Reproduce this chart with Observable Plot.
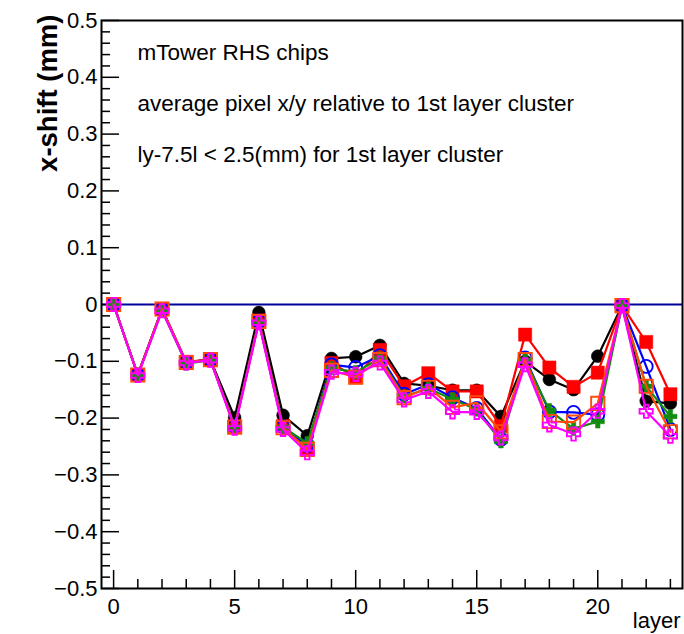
<!DOCTYPE html>
<html><head><meta charset="utf-8">
<script src="https://cdn.jsdelivr.net/npm/d3@7"></script>
<script src="https://cdn.jsdelivr.net/npm/@observablehq/plot@0.6"></script>
<style>
html,body{margin:0;padding:0;background:#fff;}
#chart svg{display:block;}
</style></head><body><div id="chart"></div>
<script>
// ---- data ----
const layers = [0,1,2,3,4,5,6,7,8,9,10,11,12,13,14,15,16,17,18,19,20,21,22,23];
const blackVals   = [0,-0.124,-0.008,-0.102,-0.097,-0.199,-0.014,-0.195,-0.231,-0.095,-0.092,-0.072,-0.139,-0.143,-0.151,-0.151,-0.197,-0.100,-0.132,-0.150,-0.091,-0.002,-0.170,-0.174];
const redVals     = [0,-0.124,-0.008,-0.101,-0.097,-0.214,-0.028,-0.214,-0.253,-0.103,-0.128,-0.080,-0.144,-0.121,-0.153,-0.153,-0.214,-0.053,-0.111,-0.145,-0.120,-0.002,-0.066,-0.158];
const blueVals    = [0,-0.124,-0.009,-0.102,-0.097,-0.214,-0.029,-0.215,-0.248,-0.106,-0.111,-0.090,-0.158,-0.141,-0.164,-0.183,-0.237,-0.094,-0.189,-0.190,-0.194,-0.002,-0.109,-0.220];
const greenVals   = [0,-0.124,-0.010,-0.104,-0.098,-0.215,-0.030,-0.216,-0.244,-0.112,-0.119,-0.095,-0.162,-0.148,-0.167,-0.185,-0.241,-0.098,-0.186,-0.219,-0.206,-0.002,-0.144,-0.197];
const orangeVals  = [0,-0.124,-0.008,-0.102,-0.097,-0.216,-0.030,-0.217,-0.255,-0.116,-0.128,-0.097,-0.164,-0.146,-0.181,-0.173,-0.224,-0.097,-0.206,-0.207,-0.174,-0.002,-0.144,-0.224];
const magentaVals = [0,-0.125,-0.011,-0.103,-0.098,-0.218,-0.032,-0.220,-0.261,-0.119,-0.123,-0.103,-0.168,-0.153,-0.189,-0.190,-0.235,-0.106,-0.212,-0.228,-0.188,-0.002,-0.188,-0.232];

const yTicks = [-0.5,-0.4,-0.3,-0.2,-0.1,0,0.1,0.2,0.3,0.4,0.5];
const xTicks = [0,5,10,15,20];
const annotations = ["mTower RHS chips","average pixel x/y relative to 1st layer cluster","ly-7.5l < 2.5(mm) for 1st layer cluster"];
const yTitle = "x-shift (mm)";
const xTitle = "layer";

// ---- symbols ----
const squareSym = {draw(c, size){const r=Math.sqrt(size/Math.PI); c.moveTo(-r,-r); c.lineTo(r,-r); c.lineTo(r,r); c.lineTo(-r,r); c.closePath();}};
const plusSym = {draw(c, size){const r=Math.sqrt(size/Math.PI), a=r*0.34;
  const p=[[-a,-r],[a,-r],[a,-a],[r,-a],[r,a],[a,a],[a,r],[-a,r],[-a,a],[-r,a],[-r,-a],[-a,-a]];
  c.moveTo(p[0][0],p[0][1]); for(let i=1;i<p.length;i++) c.lineTo(p[i][0],p[i][1]); c.closePath();}};

const series = [
  {vals: blackVals,   color: "#000000", symbol: "circle", filled: true,  r: 6.4},
  {vals: redVals,     color: "#ff0000", symbol: squareSym, filled: true,  r: 6.6},
  {vals: blueVals,    color: "#0000ff", symbol: "circle", filled: false, r: 6.5},
  {vals: greenVals,   color: "#118c11", symbol: plusSym,  filled: true,  r: 6.6},
  {vals: orangeVals,  color: "#ff4a0a", symbol: squareSym, filled: false, r: 6.6},
  {vals: magentaVals, color: "#ff00ff", symbol: plusSym,  filled: false, r: 6.6}
];

const W = 684, H = 634, mL = 101, mR = 2, mT = 20, mB = 46;
const pw = W - mL - mR, ph = H - mT - mB;

// minor tick positions
const yMinor = d3.range(-50, 51, 2).map(v => v / 100).filter(v => !yTicks.some(t => Math.abs(t - v) < 1e-9));
const xMinor = layers.filter(v => !xTicks.includes(v));

const marks = [
  Plot.ruleY([0], {stroke: "#000099", strokeWidth: 2}),
  Plot.tickY(yMinor, {y: d => d, insetRight: pw - 9, stroke: "black", strokeWidth: 1.5}),
  Plot.tickY(yTicks, {y: d => d, insetRight: pw - 18, stroke: "black", strokeWidth: 1.5}),
  Plot.tickX(xMinor, {x: d => d, insetTop: ph - 9, stroke: "black", strokeWidth: 1.5}),
  Plot.tickX(xTicks, {x: d => d, insetTop: ph - 18, stroke: "black", strokeWidth: 1.5}),
  Plot.axisY({ticks: yTicks, tickSize: 0, tickPadding: 4, label: null, tickFormat: d => d === 0 ? "0" : d3.format(".1f")(d)}),
  Plot.axisX({ticks: xTicks, tickSize: 0, tickPadding: 10, label: null, tickFormat: d => String(d)})
];

for (const s of series) {
  const data = layers.map((l, i) => ({layer: l, v: s.vals[i]}));
  marks.push(Plot.line(data, {x: "layer", y: "v", stroke: s.color, strokeWidth: 2.2}));
  marks.push(Plot.dot(data, {x: "layer", y: "v", symbol: s.symbol, r: s.r,
    fill: s.filled ? s.color : "none", stroke: s.color, strokeWidth: s.filled ? 0.5 : 1.9}));
}

marks.push(Plot.frame({stroke: "black", strokeWidth: 2}));
annotations.forEach((t, i) => {
  marks.push(Plot.text([t], {text: d => d, frameAnchor: "top-left", textAnchor: "start", dx: 36, dy: 24 + i * 51, fontSize: 22.5}));
});
marks.push(Plot.text([yTitle], {text: d => d, frameAnchor: "top-left", rotate: -90, textAnchor: "end", fontWeight: "bold", fontSize: 27.5, dx: -64, dy: -6}));
marks.push(Plot.text([xTitle], {text: d => d, frameAnchor: "bottom-right", textAnchor: "end", fontSize: 22, dx: -2, dy: 39}));

const chart = Plot.plot({
  width: W, height: H,
  marginLeft: mL, marginRight: mR, marginTop: mT, marginBottom: mB,
  style: {fontFamily: "'Liberation Sans', Arial, Helvetica, sans-serif", fontSize: "22px", color: "black", background: "white", overflow: "visible"},
  x: {domain: [-0.5, 23.5]},
  y: {domain: [-0.5, 0.5]},
  marks
});
document.getElementById("chart").appendChild(chart);
</script>
</body></html>
